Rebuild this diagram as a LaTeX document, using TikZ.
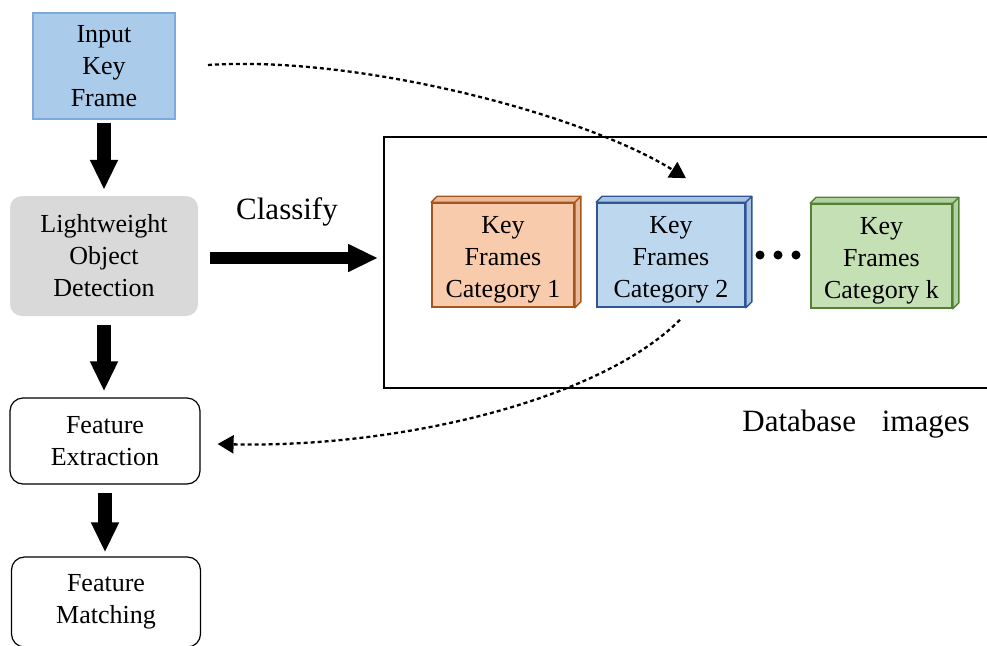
\documentclass[tikz,border=0pt]{standalone}
\usepackage{fontspec}
\setmainfont{Liberation Serif}
\usetikzlibrary{arrows.meta,calc}
\definecolor{inblue}{HTML}{ABCBEB}
\definecolor{inedge}{HTML}{7CAADC}
\definecolor{detgray}{HTML}{D9D9D9}
\definecolor{orfill}{HTML}{F8CBAD}
\definecolor{oredge}{HTML}{A5561F}
\definecolor{blfill}{HTML}{BDD7EE}
\definecolor{bledge}{HTML}{2F5597}
\definecolor{grfill}{HTML}{C5E0B4}
\definecolor{gredge}{HTML}{548235}
\begin{document}
\begin{tikzpicture}[x=1pt,y=-1pt,
  box/.style={align=center, inner sep=0pt, font=\fontsize{26}{32}\selectfont},
  stepbox/.style={box, rounded corners=13pt, draw=black, line width=1.2pt, fill=white},
  catbox/.style={minimum height=104pt, inner sep=0pt, draw, line width=1.6pt},
  bigarrow/.style={line width=14pt, -{Triangle[length=30pt,width=26pt]}},
  dasharrow/.style={line width=2.3pt, dash pattern=on 4pt off 3pt, -{Triangle[length=16pt,width=18pt]}},
  biglabel/.style={font=\fontsize{31}{36}\selectfont, inner sep=0pt}]
\useasboundingbox (0,0) rectangle (987,645);

% processing pipeline on the left
\node[box, fill=inblue, draw=inedge, line width=1.2pt, minimum width=142pt, minimum height=106pt] (in) at (104,66) {Input\\Key\\Frame};
\node[box, fill=detgray, rounded corners=12pt, minimum width=188pt, minimum height=120pt] (det) at (104,256) {Lightweight\\Object\\Detection};
\node[stepbox, minimum width=190pt, minimum height=86pt] (fe) at (105,441) {Feature\\Extraction};
\node[stepbox, minimum width=189pt, minimum height=90pt] (fm) at (106,602) {Feature\\Matching};

\draw[bigarrow, shorten <=3pt, shorten >=6pt] (in.south) -- (det.north);
\draw[bigarrow, shorten <=9pt, shorten >=6pt] (det.south) -- (det.south |- fe.north);
\draw[bigarrow, shorten <=8pt, shorten >=4pt] (fe.south) -- (fe.south |- fm.north);

% database frame (open on the right)
\coordinate (dbW) at (384,258);
\draw[line width=1.5pt] (992,137) -| (384,388) -- (992,388);
\node[biglabel] (cls) at (287,212) {Classify};
\draw[bigarrow, line width=12pt, shorten <=12pt, shorten >=6pt] (det.east |- dbW) -- (dbW);
\node[biglabel] (dbl) at (856,424) {Database\hspace{18pt} images};

% key frame categories: front faces, depth faces, captions
\node[catbox, fill=orfill, draw=oredge, minimum width=142pt] (c1) at (503,255) {};
\node[catbox, fill=blfill, draw=bledge, minimum width=148pt] (c2) at (671,255) {};
\node[catbox, fill=grfill, draw=gredge, minimum width=141pt] (ck) at (881.5,256) {};
\foreach \n/\f/\e in {c1/orfill/oredge, c2/blfill/bledge, ck/grfill/gredge} {
  \filldraw[fill=\f!85!\e, draw=\e, line width=1.4pt, line join=round]
    (\n.north west) -- ++(6,-6) -- ($(\n.north east)+(6,-6)$) -- ($(\n.south east)+(6,-6)$)
    -- (\n.south east) -- (\n.north east) -- cycle;
  \draw[\e, line width=1.4pt] (\n.north east) -- ++(6,-6);
}
\node[box, font=\fontsize{26}{32}\selectfont] (c1t) at ($(c1)+(0,5)$) {Key\\Frames\\Category 1};
\node[box, font=\fontsize{26}{32}\selectfont] (c2t) at ($(c2)+(0,5)$) {Key\\Frames\\Category 2};
\node[box, font=\fontsize{26}{32}\selectfont] (ckt) at ($(ck)+(0,5)$) {Key\\Frames\\Category k};
\foreach \x in {760,778,796} \fill (\x,255) circle (4.5pt);

% lookup arrows
\coordinate (s1) at (208,65);
\coordinate (t1) at ($(c2.north)+(15,-24)$);
\draw[dasharrow] (s1) .. controls (360,55) and (585,115) .. (t1);
\coordinate (s2) at ($(c2.south)+(9,12)$);
\coordinate (t2) at ($(fe.east)+(17,3)$);
\draw[dasharrow] (s2) .. controls (600,400) and (400,448) .. (t2);
\end{tikzpicture}
\end{document}
